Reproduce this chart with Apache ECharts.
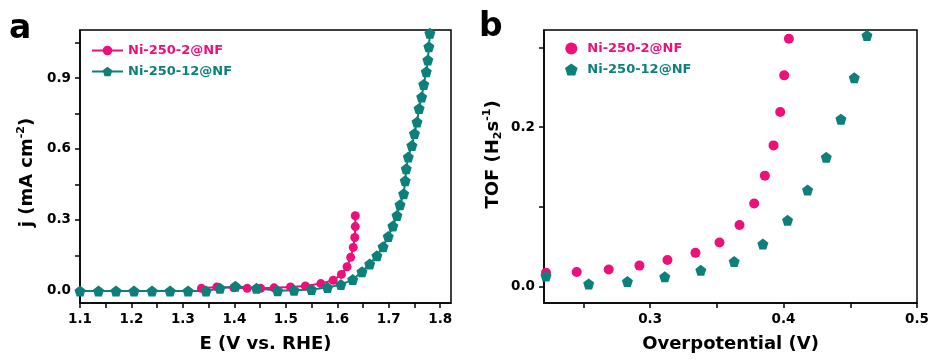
<!DOCTYPE html>
<html><head><meta charset="utf-8">
<script src="https://cdn.jsdelivr.net/npm/echarts@6/dist/echarts.min.js"></script>
<style>html,body{margin:0;padding:0;background:#fff}#c{width:932px;height:361px}</style>
</head><body><div id="c"></div>
<script>
const seriesNames = ['Ni-250-2@NF', 'Ni-250-12@NF'];

// Panel a: LSV curves
const lsvPinkE = [1.336, 1.366, 1.399, 1.425, 1.451, 1.477, 1.509, 1.538, 1.568, 1.592, 1.608, 1.619, 1.626, 1.631, 1.634, 1.635, 1.635];
const lsvPinkJ = [0.011, 0.017, 0.013, 0.011, 0.011, 0.013, 0.017, 0.021, 0.031, 0.045, 0.070, 0.102, 0.142, 0.184, 0.226, 0.272, 0.318];
const lsvTealE = [1.100, 1.136, 1.170, 1.205, 1.240, 1.275, 1.310, 1.345, 1.372, 1.402, 1.443, 1.484, 1.516, 1.550, 1.581, 1.607, 1.630, 1.648, 1.663, 1.677, 1.689, 1.699, 1.708, 1.716, 1.722, 1.729, 1.732, 1.734, 1.738, 1.745, 1.750, 1.755, 1.759, 1.764, 1.768, 1.773, 1.776, 1.778, 1.780];
const lsvTealJ = [0.000, 0.000, 0.000, 0.000, 0.000, 0.000, 0.000, 0.000, 0.011, 0.020, 0.011, 0.001, 0.003, 0.006, 0.014, 0.027, 0.048, 0.081, 0.114, 0.149, 0.187, 0.230, 0.274, 0.319, 0.364, 0.411, 0.466, 0.516, 0.566, 0.615, 0.665, 0.714, 0.771, 0.820, 0.873, 0.926, 0.976, 1.032, 1.089];

// Panel b: TOF
const tofPinkEta = [0.222, 0.245, 0.269, 0.292, 0.313, 0.334, 0.352, 0.367, 0.378, 0.386, 0.3925, 0.3975, 0.4005, 0.404];
const tofPinkVal = [0.017, 0.018, 0.021, 0.026, 0.033, 0.042, 0.055, 0.077, 0.104, 0.139, 0.177, 0.219, 0.265, 0.311];
const tofTealEta = [0.222, 0.254, 0.283, 0.311, 0.338, 0.363, 0.3845, 0.403, 0.418, 0.432, 0.443, 0.453, 0.4625];
const tofTealVal = [0.013, 0.003, 0.006, 0.012, 0.020, 0.031, 0.053, 0.083, 0.121, 0.162, 0.210, 0.262, 0.315];

// Tick values / labels
const lsvXLabels = [1.1, 1.2, 1.3, 1.4, 1.5, 1.6, 1.7, 1.8];
const lsvXTicks = [1.1, 1.15, 1.2, 1.25, 1.3, 1.35, 1.4, 1.45, 1.5, 1.55, 1.6, 1.65, 1.7, 1.75, 1.8];
const lsvYLabels = [0.0, 0.3, 0.6, 0.9];
const lsvYTicks = [0.0, 0.15, 0.3, 0.45, 0.6, 0.75, 0.9, 1.05];
const tofXLabels = [0.3, 0.4, 0.5];
const tofXTicks = [0.25, 0.3, 0.35, 0.4, 0.45, 0.5];
const tofYLabels = [0.0, 0.2];
const tofYTicks = [0.0, 0.1, 0.2, 0.3];

const PINK = '#EE0F7A';
const TEAL = '#0C807B';
const FONT = 'DejaVu Sans';
const PENTAGON = 'path://M50,0L97.55,34.55L79.39,90.45L20.61,90.45L2.45,34.55Z';

const zip = (a, b) => a.map((v, i) => [v, b[i]]);

function nameStyle(pad) {
  return {
    fontFamily: FONT, fontWeight: 'bold', fontSize: 18, color: '#000', lineHeight: 22,
    padding: pad || 0,
    rich: {
      sup: { fontFamily: FONT, fontWeight: 'bold', fontSize: 11, color: '#000', verticalAlign: 'top', lineHeight: 22, padding: [0, 0, 8, 0] },
      sub: { fontFamily: FONT, fontWeight: 'bold', fontSize: 11, color: '#000', verticalAlign: 'bottom', lineHeight: 22, padding: [8, 0, 0, 0] }
    }
  };
}

function axis(opts) {
  return {
    type: 'value',
    gridIndex: opts.grid,
    min: opts.min, max: opts.max,
    name: opts.name, nameLocation: 'middle', nameGap: opts.nameGap,
    nameTextStyle: nameStyle(opts.namePad),
    axisLine: { show: true, onZero: false, lineStyle: { color: '#000', width: 1.5 } },
    axisTick: { show: true, inside: false, length: 5, customValues: opts.ticks, lineStyle: { color: '#000', width: 1.5 } },
    axisLabel: { customValues: opts.labels, formatter: v => v.toFixed(1), margin: 9, color: '#000', fontFamily: FONT, fontWeight: 'bold', fontSize: 13.5 },
    splitLine: { show: false }
  };
}

const chart = echarts.init(document.getElementById('c'), null, { renderer: 'canvas' });
chart.setOption({
  animation: false,
  backgroundColor: '#fff',
  grid: [
    { left: 80, top: 30, right: 481, bottom: 58, show: true, borderColor: '#000', borderWidth: 1.5 },
    { left: 544, top: 30, right: 15, bottom: 58, show: true, borderColor: '#000', borderWidth: 1.5 }
  ],
  xAxis: [
    axis({ grid: 0, min: 1.1, max: 1.821, ticks: lsvXTicks, labels: lsvXLabels, name: 'E (V vs. RHE)', nameGap: 30 }),
    axis({ grid: 1, min: 0.2205, max: 0.5, ticks: tofXTicks, labels: tofXLabels, name: 'Overpotential (V)', nameGap: 30 })
  ],
  yAxis: [
    axis({ grid: 0, min: -0.051, max: 1.103, ticks: lsvYTicks, labels: lsvYLabels, name: 'j (mA cm{sup|-2})', nameGap: 42, namePad: [0, 12, 0, 0] }),
    axis({ grid: 1, min: -0.021, max: 0.322, ticks: tofYTicks, labels: tofYLabels, name: 'TOF (H{sub|2}s{sup|-1})', nameGap: 40, namePad: [0, 0, 0, 24] })
  ],
  legend: [
    {
      orient: 'vertical', left: 86, top: 39, itemWidth: 31, itemHeight: 12, itemGap: 8, selectedMode: false,
      textStyle: { fontFamily: FONT, fontWeight: 'bold', fontSize: 13, lineHeight: 12 },
      data: [
        { name: seriesNames[0], textStyle: { color: PINK } },
        { name: seriesNames[1], textStyle: { color: TEAL } }
      ]
    },
    {
      orient: 'vertical', left: 560, top: 37, itemWidth: 14, itemHeight: 12, itemGap: 8, selectedMode: false,
      textStyle: { fontFamily: FONT, fontWeight: 'bold', fontSize: 13, lineHeight: 12, padding: [0, 0, 0, 4] },
      data: [
        { name: seriesNames[0], icon: 'circle', itemStyle: { color: PINK }, textStyle: { color: PINK } },
        { name: seriesNames[1], icon: PENTAGON, itemStyle: { color: TEAL }, textStyle: { color: TEAL } }
      ]
    }
  ],
  graphic: [
    { type: 'text', left: 9, top: 13, style: { text: 'a', font: 'bold 33px "DejaVu Sans"', fill: '#000' } },
    { type: 'text', left: 479, top: 11, style: { text: 'b', font: 'bold 33px "DejaVu Sans"', fill: '#000' } }
  ],
  series: [
    {
      name: seriesNames[0], type: 'line', xAxisIndex: 0, yAxisIndex: 0,
      data: zip(lsvPinkE, lsvPinkJ), symbol: 'circle', symbolSize: 9, showSymbol: true,
      lineStyle: { color: PINK, width: 2 }, itemStyle: { color: PINK }
    },
    {
      name: seriesNames[1], type: 'line', xAxisIndex: 0, yAxisIndex: 0,
      data: zip(lsvTealE, lsvTealJ), symbol: PENTAGON, symbolSize: 11, showSymbol: true,
      lineStyle: { color: TEAL, width: 2 }, itemStyle: { color: TEAL }
    },
    {
      name: seriesNames[0], type: 'scatter', xAxisIndex: 1, yAxisIndex: 1,
      data: zip(tofPinkEta, tofPinkVal), symbol: 'circle', symbolSize: 10,
      itemStyle: { color: PINK, opacity: 1 }
    },
    {
      name: seriesNames[1], type: 'scatter', xAxisIndex: 1, yAxisIndex: 1,
      data: zip(tofTealEta, tofTealVal), symbol: PENTAGON, symbolSize: 11,
      itemStyle: { color: TEAL, opacity: 1 }
    }
  ]
});
</script>
</body></html>
